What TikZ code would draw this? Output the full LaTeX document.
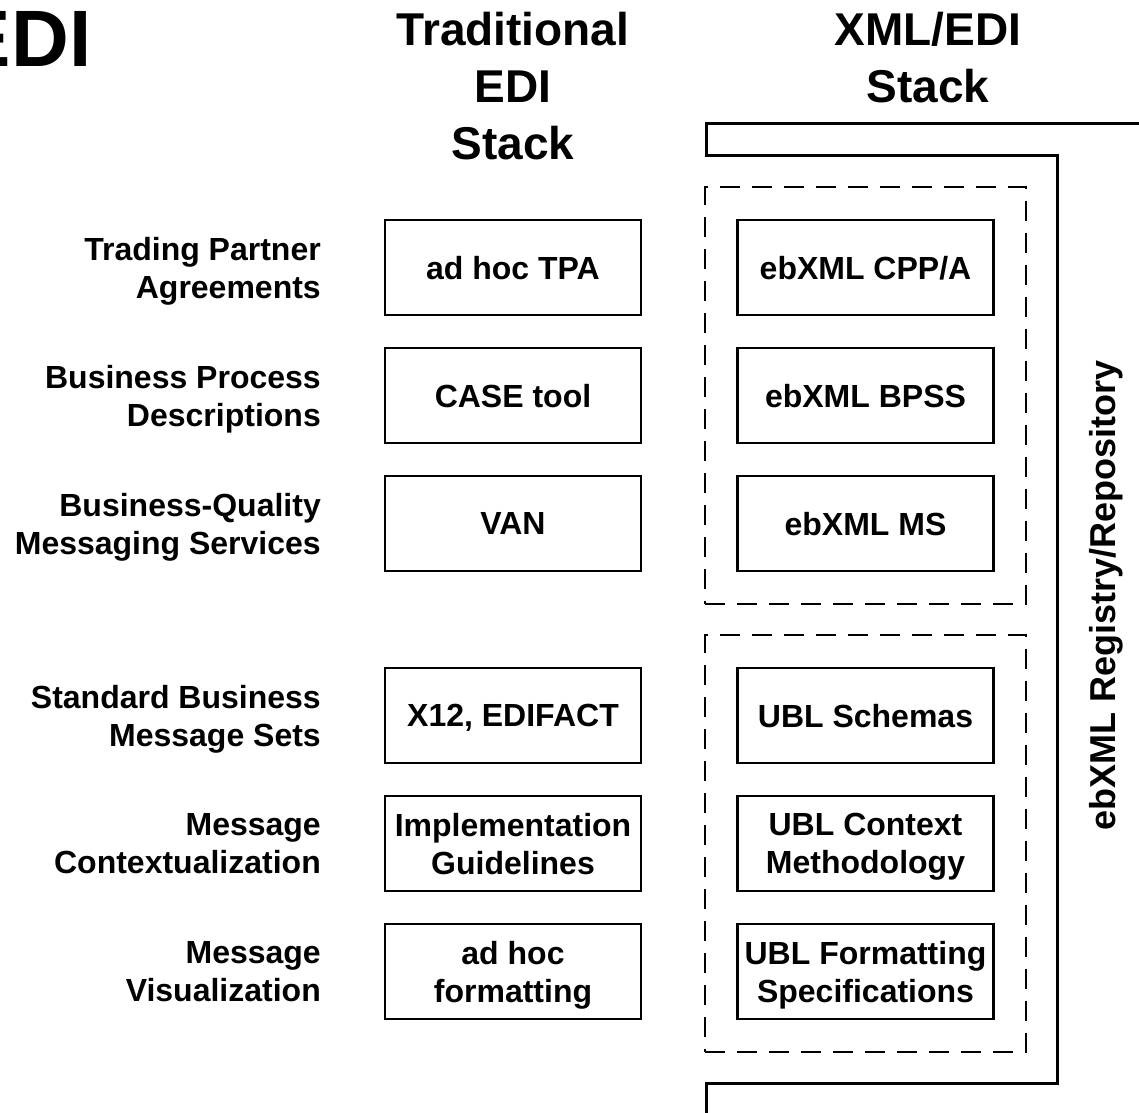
\documentclass[tikz,border=0pt]{standalone}
\usepackage{fontspec}
\setmainfont{Liberation Sans}
\usetikzlibrary{fit}

\tikzset{
    layer/.style={draw=black, line width=2.2pt, fill=white, inner sep=0pt, text depth=0pt, minimum width=256pt, minimum height=95pt, align=center, font=\fontsize{32}{38}\selectfont\bfseries},
    rowlabel/.style={anchor=east, inner sep=0pt, text depth=0pt, align=right, font=\fontsize{32}{38}\selectfont\bfseries},
    header/.style={anchor=north, inner sep=0pt, align=center, font=\fontsize{46}{57}\selectfont\bfseries},
    group/.style={draw=black, line width=2pt, dash pattern=on 20pt off 12pt, inner sep=31.5pt}
}

\begin{document}
\begin{tikzpicture}[x=1pt, y=-1pt]
        \useasboundingbox (0, 0) rectangle (1139, 1112);

        \node[anchor=base east, inner sep=0pt, font=\fontsize{80}{90}\selectfont\bfseries] (title) at (91.5, 66) {EDI};
        \node[header] (trad) at (513, 11.5) {Traditional\\EDI\\Stack};
        \node[header] (xmledi) at (928, 11.5) {XML/EDI\\Stack};

        \node[rowlabel] (lab1) at (321, 267.5) {Trading Partner\\Agreements};
        \node[rowlabel] (lab2) at (321, 395.5) {Business Process\\Descriptions};
        \node[rowlabel] (lab3) at (321, 523.5) {Business-Quality\\Messaging Services};
        \node[rowlabel] (lab4) at (321, 715.5) {Standard Business\\Message Sets};
        \node[rowlabel] (lab5) at (321, 843.5) {Message\\Contextualization};
        \node[rowlabel] (lab6) at (321, 971.5) {Message\\Visualization};

        \node[layer] (l1) at (513, 267.5) {ad hoc TPA};
        \node[layer] (l2) at (513, 395.5) {CASE tool};
        \node[layer] (l3) at (513, 523.5) {VAN};
        \node[layer] (l4) at (513, 715.5) {X12, EDIFACT};
        \node[layer] (l5) at (513, 843.5) {Implementation\\Guidelines};
        \node[layer] (l6) at (513, 971.5) {ad hoc\\formatting};

        \node[layer] (r1) at (865.5, 267.5) {ebXML CPP/A};
        \node[layer] (r2) at (865.5, 395.5) {ebXML BPSS};
        \node[layer] (r3) at (865.5, 523.5) {ebXML MS};
        \node[layer] (r4) at (865.5, 715.5) {UBL Schemas};
        \node[layer] (r5) at (865.5, 843.5) {UBL Context\\Methodology};
        \node[layer] (r6) at (865.5, 971.5) {UBL Formatting\\Specifications};

        \node[group, fit=(r1)(r3)] (ebxml) {};
        \node[group, fit=(r4)(r6)] (ubl) {};

        \draw[line width=3pt] (1145, 123) -- (706, 123) -- (706, 155) -- (1057, 155) -- (1057, 1083) -- (706, 1083) -- (706, 1120);
        \node[rotate=90, inner sep=0pt, font=\fontsize{36}{40}\selectfont\bfseries] (registry) at (1106, 595) {ebXML Registry/Repository};
    \end{tikzpicture}
\end{document}
